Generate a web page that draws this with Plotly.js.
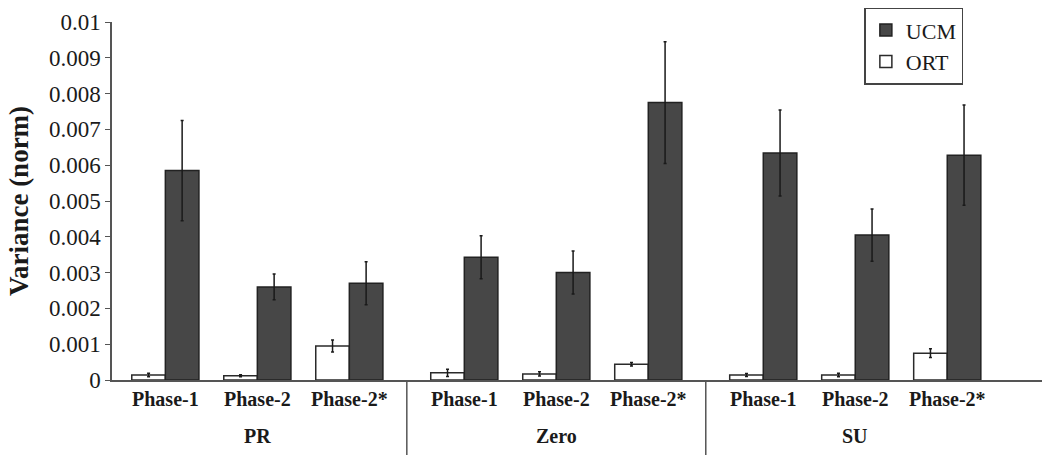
<!DOCTYPE html>
<html>
<head>
<meta charset="utf-8">
<script src="https://cdn.plot.ly/plotly-3.0.1.min.js"></script>
<style>
  html, body { margin: 0; padding: 0; background: #fff; }
  #chart { width: 1050px; height: 455px; }
</style>
</head>
<body>
<div id="chart"></div>
<script>
const groupNames = ["PR", "Zero", "SU"];
const groups = ["PR", "PR", "PR", "Zero", "Zero", "Zero", "SU", "SU", "SU"];
const phases = ["Phase-1", "Phase-2", "Phase-2*", "Phase-1", "Phase-2", "Phase-2*", "Phase-1", "Phase-2", "Phase-2*"];

const ucmMean = [0.00585, 0.0026, 0.0027, 0.00343, 0.0030, 0.00775, 0.00634, 0.00405, 0.00628];
const ucmErr  = [0.0014, 0.00036, 0.0006, 0.0006, 0.0006, 0.0017, 0.0012, 0.00073, 0.0014];

const ortMean = [0.00014, 0.00012, 0.00095, 0.0002, 0.00017, 0.00044, 0.00014, 0.00014, 0.00075];
const ortErr  = [0.00005, 0.00003, 0.00017, 0.0001, 0.00006, 0.00005, 0.00004, 0.00005, 0.00012];

const chartDiv = document.getElementById("chart");
const serif = "Liberation Serif";
const ink = "#1a1a1a";
const groupGap = 0.25;

// slot position of each category: index plus a little extra room between groups
const xPos = groups.map((g, i) => i + groupNames.indexOf(g) * groupGap);

function groupCenter(name) {
    const xs = xPos.filter((_, i) => groups[i] === name);
    return (xs[0] + xs[xs.length - 1]) / 2;
}

function dividers() {
    const out = [];
    for (let i = 1; i < groups.length; i++) {
        if (groups[i] !== groups[i - 1]) {
            const xd = (xPos[i] + xPos[i - 1]) / 2;
            out.push({
                type: "line", xref: "x", yref: "paper",
                x0: xd, x1: xd, y0: 0, y1: -0.21,
                line: {color: "#555", width: 1.5}
            });
        }
    }
    return out;
}

const groupLabels = groupNames.map(name => ({
    text: "<b>" + name + "</b>",
    x: groupCenter(name), xref: "x",
    y: -0.157, yref: "paper",
    yanchor: "middle", showarrow: false,
    font: {family: serif, size: 20, color: ink}
}));

const ort = {
    x: xPos,
    y: ortMean,
    name: "ORT",
    type: "bar",
    marker: {color: "#ffffff", line: {color: "#2a2a2a", width: 1.5}},
    error_y: {type: "data", array: ortErr, visible: true, color: ink, thickness: 1.5, width: 1.5}
};

const ucm = {
    x: xPos,
    y: ucmMean,
    name: "UCM",
    type: "bar",
    marker: {color: "#474747", line: {color: "#222222", width: 1.5}},
    error_y: {type: "data", array: ucmErr, visible: true, color: ink, thickness: 1.5, width: 1.5}
};

const layout = {
    width: 1050,
    height: 455,
    margin: {t: 17, r: 8, b: 75, l: 112},
    paper_bgcolor: "#ffffff",
    plot_bgcolor: "#ffffff",
    barmode: "group",
    bargap: 0.27,
    bargroupgap: 0,
    font: {family: serif, color: ink},
    showlegend: true,
    legend: {
        x: 0.809, y: 1.04, xanchor: "left", yanchor: "top",
        traceorder: "reversed",
        bordercolor: "#444", borderwidth: 1.5,
        bgcolor: "#ffffff",
        font: {family: serif, size: 22, color: ink},
        tracegroupgap: 0
    },
    xaxis: {
        range: [-0.58, 9.53],
        tickmode: "array",
        tickvals: xPos,
        ticktext: phases.map(p => "<b>" + p + "</b>"),
        showline: true, linecolor: "#555", linewidth: 1.5,
        ticks: "", ticklabelstandoff: 0,
        tickfont: {family: serif, size: 20, color: ink},
        showgrid: false, zeroline: false
    },
    yaxis: {
        range: [0, 0.01],
        dtick: 0.001,
        showline: true, linecolor: "#555", linewidth: 1.5,
        ticks: "outside", ticklen: 5, tickcolor: "#555",
        tickfont: {family: serif, size: 23, color: ink},
        showgrid: false, zeroline: false,
        title: {text: "<b>Variance (norm)</b>", font: {family: serif, size: 27, color: ink}, standoff: 12}
    },
    shapes: dividers(),
    annotations: groupLabels
};

Plotly.newPlot(chartDiv, [ort, ucm], layout, {displayModeBar: false});
</script>
</body>
</html>
